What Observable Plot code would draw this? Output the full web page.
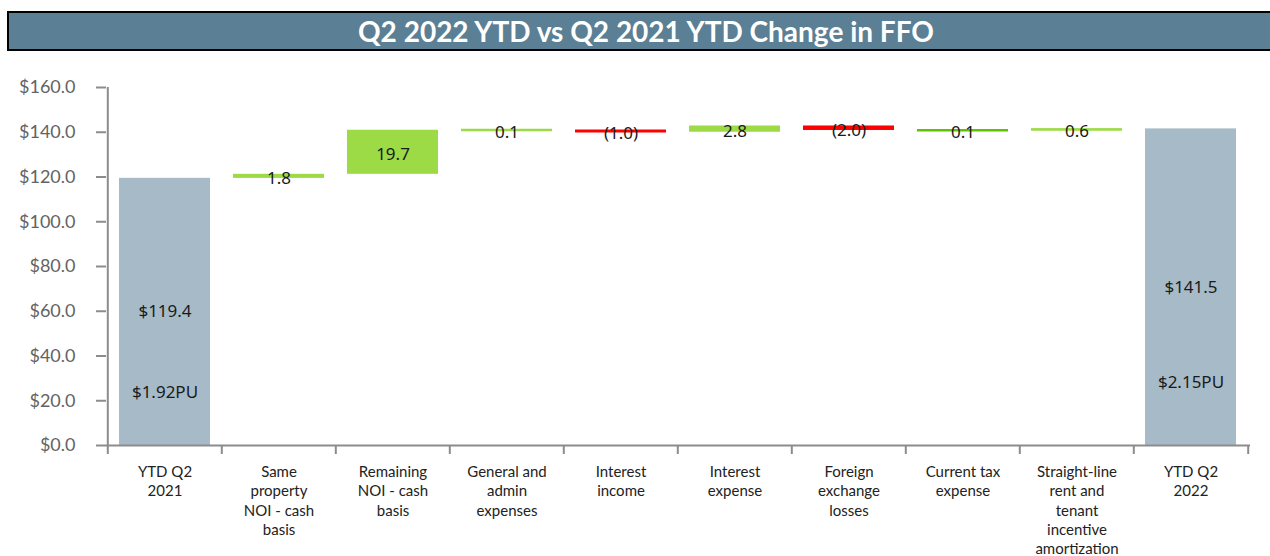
<!DOCTYPE html>
<html><head><meta charset="utf-8">
<script src="https://cdn.jsdelivr.net/npm/d3@7"></script>
<script src="https://cdn.jsdelivr.net/npm/@observablehq/plot@0.6"></script>
<style>
html,body{margin:0;padding:0;background:#fff;overflow:hidden;width:1270px;height:556px}
#title{margin:11px 0 0 7px;width:1274px;height:36px;border:2px solid #000;background:#5b7f94;color:#fff;font:bold 28px Lato,sans-serif;line-height:36px;text-align:center;box-sizing:content-box;white-space:nowrap}
#chart svg{display:block}
</style></head><body>
<div id="title">Q2 2022 YTD vs Q2 2021 YTD Change in FFO</div>
<div id="chart"></div>
<script>
const categories = [
  "YTD Q2\n2021",
  "Same\nproperty\nNOI - cash\nbasis",
  "Remaining\nNOI - cash\nbasis",
  "General and\nadmin\nexpenses",
  "Interest\nincome",
  "Interest\nexpense",
  "Foreign\nexchange\nlosses",
  "Current tax\nexpense",
  "Straight-line\nrent and\ntenant\nincentive\namortization",
  "YTD Q2\n2022"
];
const values = [119.4, 1.8, 19.7, 0.1, -1.0, 2.8, -2.0, 0.1, 0.6, 141.5];
const kinds = ["total","change","change","change","change","change","change","change","change","total"];
const perUnit = [1.92, null, null, null, null, null, null, null, null, 2.15];
const yTicks = [0, 20, 40, 60, 80, 100, 120, 140, 160];

let run = 0;
const rows = categories.map((c, i) => {
  if (kinds[i] === "total") {
    run = values[i];
    return {cat: c, y1: 0, y2: values[i], v: values[i], kind: "total", pu: perUnit[i]};
  }
  const start = run;
  run += values[i];
  return {cat: c, y1: start, y2: run, v: values[i], kind: values[i] >= 0 ? "up" : "down"};
});
const totals = rows.filter(r => r.kind === "total");
const changes = rows.filter(r => r.kind !== "total");

const colorOf = r => r.kind === "total" ? "#a6bac7"
  : r.kind === "down" ? "#ff0000"
  : (r.cat.startsWith("Current tax") ? "#5ec400" : "#9cdb46");

const W = 1270, H = 505, mL = 106, mR = 20, mT = 36, mB = 111;
const step = (W - mL - mR) / (categories.length - 0.2 + 0.2);
const axisColor = "#8c8c8c";

const chart = Plot.plot({
  width: W, height: H,
  marginLeft: mL, marginRight: mR, marginTop: mT, marginBottom: mB,
  style: {fontFamily: "Lato, sans-serif", fontSize: "15px", background: "#fff"},
  x: {domain: categories, paddingInner: 0.2, paddingOuter: 0.1, label: null},
  y: {domain: [0, 160], label: null},
  marks: [
    Plot.barY(rows, {x: "cat", y1: "y1", y2: "y2", fill: colorOf}),
    Plot.tickY(changes, {x: "cat", y: r => (r.y1 + r.y2) / 2, stroke: colorOf, strokeWidth: 2.5}),
    Plot.ruleY([0], {stroke: axisColor, strokeWidth: 2}),
    Plot.ruleX([categories[0]], {dx: -step / 2, y1: () => 160, y2: () => 0, insetBottom: -9, stroke: axisColor, strokeWidth: 2}),
    Plot.ruleX(categories.slice(1), {x: d => d, dx: -step / 2, y1: () => 0, y2: () => 0, insetBottom: -9, stroke: axisColor, strokeWidth: 2}),
    Plot.ruleX([categories[categories.length - 1]], {dx: step / 2, y1: () => 0, y2: () => 0, insetBottom: -9, stroke: axisColor, strokeWidth: 2}),
    Plot.axisY({ticks: yTicks, tickSize: 10, tickPadding: 21, tickFormat: d => "$" + d.toFixed(1),
      stroke: axisColor, strokeWidth: 2, fill: "#636363", fontSize: 18, label: null}),
    Plot.axisX({tickSize: 0, tickPadding: 18, fontSize: 15, lineHeight: 1.28, fill: "#222", label: null}),
    Plot.text(changes, {x: "cat", y: r => (r.y1 + r.y2) / 2, dy: 2,
      text: r => r.v < 0 ? `(${Math.abs(r.v).toFixed(1)})` : r.v.toFixed(1),
      fontSize: 17, fill: "#1a1a1a", fontFamily: "Noto Sans, sans-serif"}),
    Plot.text(totals, {x: "cat", y: r => r.v / 2, text: r => "$" + r.v.toFixed(1),
      fontSize: 17, fill: "#1a1a1a", fontFamily: "Noto Sans, sans-serif"}),
    Plot.text(totals, {x: "cat", y: r => r.v * 0.2, text: r => "$" + r.pu.toFixed(2) + "PU",
      fontSize: 17, fill: "#1a1a1a", fontFamily: "Noto Sans, sans-serif"})
  ]
});
document.getElementById("chart").appendChild(chart);
</script>
</body></html>
